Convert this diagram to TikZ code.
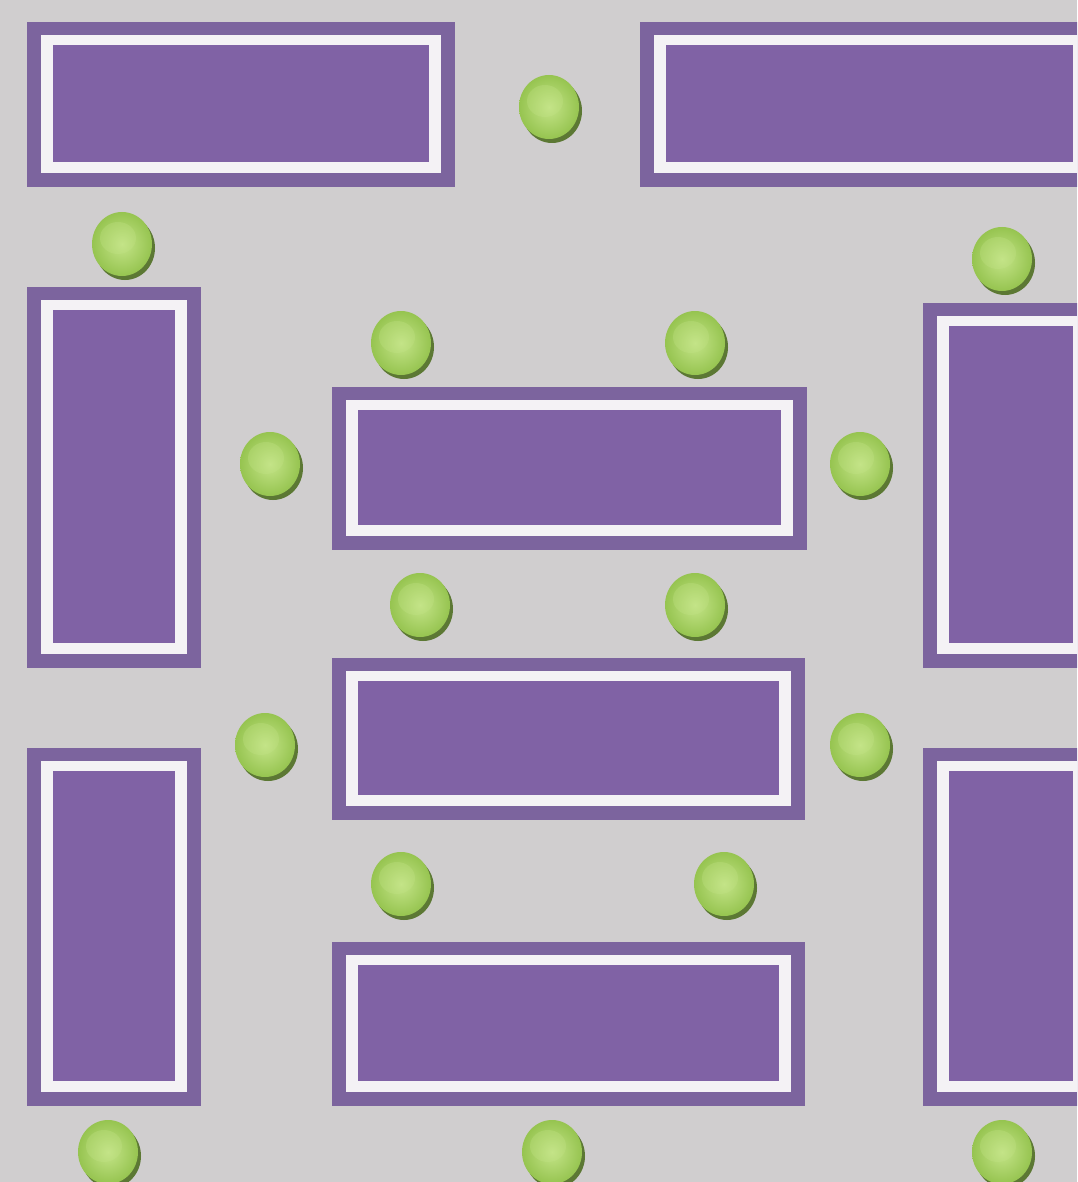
\documentclass[tikz,border=0pt]{standalone}
\definecolor{bg}{RGB}{208,206,207}
\definecolor{tblout}{RGB}{124,100,158}
\definecolor{tblin}{RGB}{128,98,165}
\definecolor{gapc}{RGB}{244,242,245}
\definecolor{ballhi}{RGB}{196,228,136}
\definecolor{balllo}{RGB}{150,196,80}
\definecolor{ballsh}{RGB}{92,120,52}
\newcommand\mytable[4]{%
  \fill[tblout] (#1,#2) rectangle (#3,#4);
  \fill[gapc] (#1+14,#2+13) rectangle (#3-14,#4-14);
  \fill[tblin] (#1+26,#2+23) rectangle (#3-26,#4-25);
}
\newcommand\myball[2]{%
  \fill[ballsh] (#1+3,#2+4) ellipse [x radius=30, y radius=32];
  \shade[inner color=ballhi, outer color=balllo] (#1,#2) ellipse [x radius=30, y radius=32];
  \fill[ballhi, opacity=0.3] (#1-4,#2-6) ellipse [x radius=18, y radius=16];
}
\begin{document}
\begin{tikzpicture}[x=1pt,y=-1pt]
\useasboundingbox (0,0) rectangle (1077,1182);
\clip (0,0) rectangle (1077,1182);
\fill[bg] (0,0) rectangle (1077,1182);
% tables
\mytable{27}{22}{455}{187}
\mytable{640}{22}{1099}{187}
\mytable{27}{287}{201}{668}
\mytable{27}{748}{201}{1106}
\mytable{923}{303}{1099}{668}
\mytable{923}{748}{1099}{1106}
\mytable{332}{387}{807}{550}
\mytable{332}{658}{805}{820}
\mytable{332}{942}{805}{1106}
% chairs
\myball{549}{107}
\myball{122}{244}
\myball{1002}{259}
\myball{401}{343}
\myball{695}{343}
\myball{270}{464}
\myball{860}{464}
\myball{420}{605}
\myball{695}{605}
\myball{265}{745}
\myball{860}{745}
\myball{401}{884}
\myball{724}{884}
\myball{108}{1152}
\myball{552}{1152}
\myball{1002}{1152}
\end{tikzpicture}
\end{document}
